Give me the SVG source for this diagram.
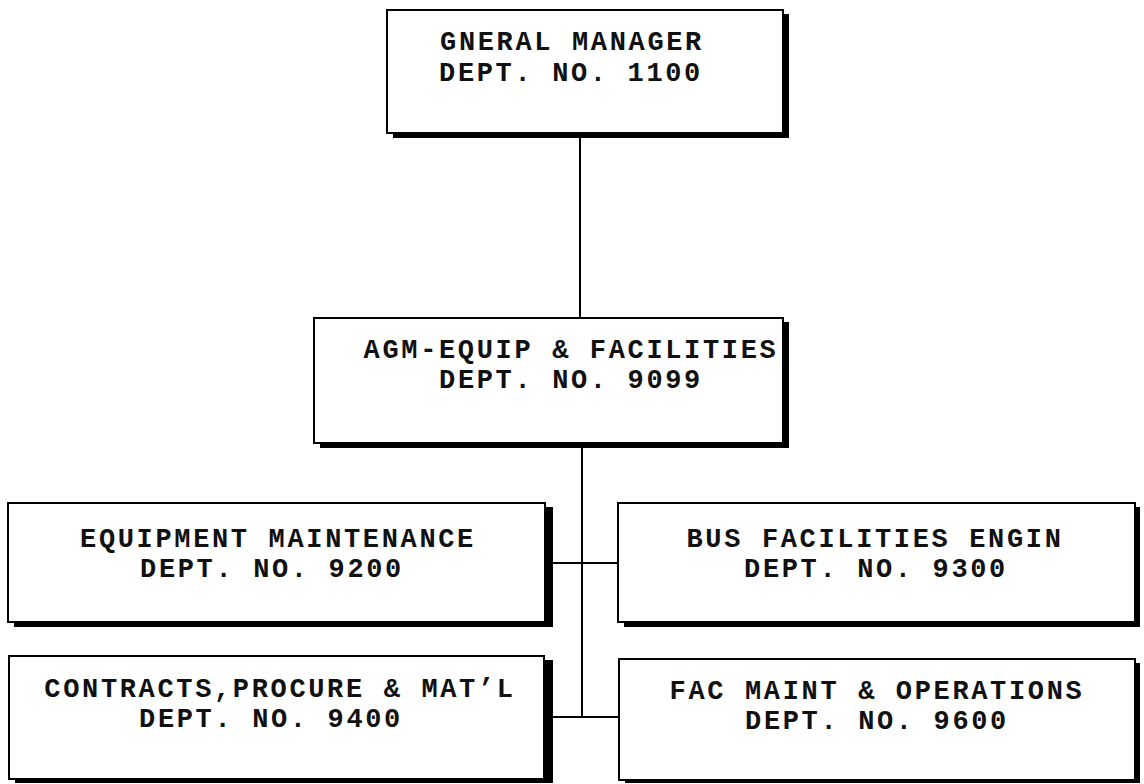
<svg xmlns="http://www.w3.org/2000/svg" width="1144" height="784" viewBox="0 0 1144 784">
<style>
.box{fill:#fff;stroke:#000;stroke-width:2}
.shadow{fill:#000}
.t{font-family:"Liberation Mono","Courier New",monospace;font-size:27px;letter-spacing:2.65px;font-weight:bold;fill:#111;text-anchor:middle}
.c{stroke:#000;stroke-width:2;fill:none}
</style>
<rect width="1144" height="784" fill="#fff"/>
<g id="connectors">
<line class="c" x1="580" y1="137" x2="580" y2="318"/>
<line class="c" x1="582" y1="447" x2="582" y2="717"/>
<line class="c" x1="553" y1="563" x2="618" y2="563"/>
<line class="c" x1="553" y1="717" x2="618" y2="717"/>
</g>
<g id="gm">
<rect class="shadow" x="393" y="14" width="396" height="124"/>
<rect class="box" x="387" y="10" width="396" height="123"/>
<text class="t" x="572" y="50">GNERAL MANAGER</text>
<text class="t" x="571" y="81">DEPT. NO. 1100</text>
</g>
<g id="agm">
<rect class="shadow" x="320" y="322" width="469" height="126"/>
<rect class="box" x="314" y="318" width="469" height="125"/>
<text class="t" x="571" y="358">AGM-EQUIP &amp; FACILITIES</text>
<text class="t" x="571" y="388">DEPT. NO. 9099</text>
</g>
<g id="d9200">
<rect class="shadow" x="14" y="507" width="539" height="120"/>
<rect class="box" x="8" y="503" width="537" height="119"/>
<text class="t" x="278" y="547">EQUIPMENT MAINTENANCE</text>
<text class="t" x="272" y="577">DEPT. NO. 9200</text>
</g>
<g id="d9300">
<rect class="shadow" x="624" y="507" width="516" height="120"/>
<rect class="box" x="618" y="503" width="517" height="119"/>
<text class="t" x="875" y="547">BUS FACILITIES ENGIN</text>
<text class="t" x="876" y="577">DEPT. NO. 9300</text>
</g>
<g id="d9400">
<rect class="shadow" x="15" y="660" width="538" height="123"/>
<rect class="box" x="9" y="656" width="535" height="123"/>
<text class="t" x="280" y="697">CONTRACTS,PROCURE &amp; MAT’L</text>
<text class="t" x="271" y="727">DEPT. NO. 9400</text>
</g>
<g id="d9600">
<rect class="shadow" x="625" y="663" width="515" height="120"/>
<rect class="box" x="619" y="659" width="516" height="121"/>
<text class="t" x="877" y="699">FAC MAINT &amp; OPERATIONS</text>
<text class="t" x="877" y="729">DEPT. NO. 9600</text>
</g>
</svg>
